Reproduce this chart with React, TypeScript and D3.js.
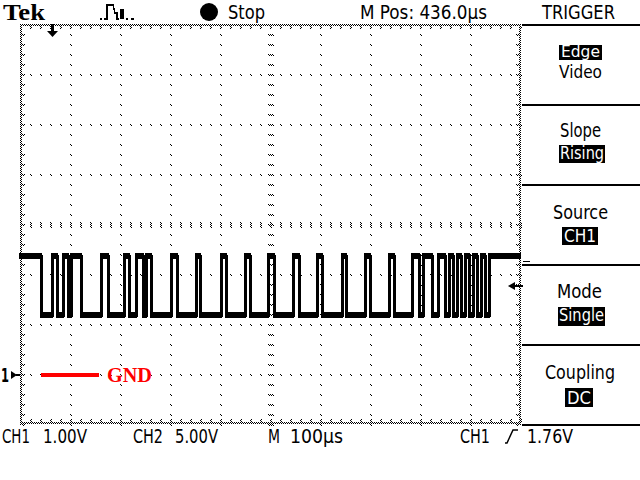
import React from "react";
import * as d3 from "d3";

// ---- data ----
// CH1 transition times in microseconds from the left edge of the screen (trace starts high)
const edgeTimesUs = [
  42, 64, 74, 86, 96, 102, 122, 162, 176, 208, 218, 232, 246, 252, 262, 302,
  314, 352, 360, 402, 412, 450, 460, 496, 508, 546, 558, 594, 604, 644, 652,
  690, 700, 738, 748, 784, 798, 806, 824, 836, 850, 858, 866, 874, 882, 890,
  898, 906, 914, 922, 930, 938,
];
const highLevelV = 2.36;
const lowLevelV = 1.18;
const triggerLevelV = 1.76;
const gndLevelV = 0;
const screenTimeUs = [0, 1000];
const screenVolts = [-1, 7];
const triggerTimeUs = 64;

const topLabels = ["Stop", "M Pos: 436.0µs", "TRIGGER"];
const bottomLabels = ["CH1", "1.00V", "CH2", "5.00V", "M", "100µs", "CH1", "1.76V"];
const menuTitles = ["Edge", "Slope", "Source", "Mode", "Coupling"];
const menuValues = ["Video", "Rising", "CH1", "Single", "DC"];

const UI_FONT = "'Liberation Sans Narrow', 'DejaVu Sans Condensed', 'Liberation Sans', Arial, sans-serif";
const SERIF = "'Liberation Serif', 'Times New Roman', serif";

function T(props: { x: number; y: number; w: number; size: number; fill?: string; children: string; family?: string; weight?: string }) {
  return (
    <text
      x={props.x}
      y={props.y}
      textLength={props.w}
      lengthAdjust="spacingAndGlyphs"
      fontFamily={props.family || UI_FONT}
      fontWeight={props.weight || "normal"}
      fontSize={props.size}
      fill={props.fill || "#000"}
    >
      {props.children}
    </text>
  );
}

export default function App() {
  const x = d3.scaleLinear().domain(screenTimeUs).range([20, 520]);
  const y = d3.scaleLinear().domain(screenVolts).range([424, 24]);

  // waveform points
  const pts: [number, number][] = [];
  const segs: { t0: number; t1: number; v: number }[] = [];
  let hi = true;
  let tPrev = screenTimeUs[0];
  pts.push([screenTimeUs[0], highLevelV]);
  for (const t of edgeTimesUs) {
    const v = hi ? highLevelV : lowLevelV;
    pts.push([t, v]);
    segs.push({ t0: tPrev, t1: t, v });
    hi = !hi;
    pts.push([t, hi ? highLevelV : lowLevelV]);
    tPrev = t;
  }
  const vEnd = hi ? highLevelV : lowLevelV;
  pts.push([screenTimeUs[1], vEnd]);
  segs.push({ t0: tPrev, t1: screenTimeUs[1], v: vEnd });
  const line = d3
    .line<[number, number]>()
    .x((d) => Math.round(x(d[0])))
    .y((d) => Math.round(y(d[1])));

  // grid
  const vGrid = d3.range(100, 1000, 100);
  const hGrid = d3.range(0, 7, 1);
  const dotsT = d3.range(0, 1001, 20); // every 10 px
  const dotsV = d3.range(-1, 7.01, 0.2);

  const dots: JSX.Element[] = [];
  vGrid.forEach((t) => {
    if (t === 500) return;
    dotsV.forEach((v, i) => {
      const px = Math.round(x(t));
      const py = Math.round(y(v));
      dots.push(<rect key={`v${t}-${i}`} x={px} y={py} width={1} height={1} />);
      dots.push(<rect key={`v2${t}-${i}`} x={px + 1} y={py + 1} width={1} height={1} />);
    });
  });
  hGrid.forEach((v) => {
    if (v === 3) return;
    dotsT.forEach((t, i) => {
      const px = Math.round(x(t));
      const py = Math.round(y(v));
      dots.push(<rect key={`h${v}-${i}`} x={px} y={py} width={1} height={1} />);
      dots.push(<rect key={`h2${v}-${i}`} x={px + 1} y={py + 1} width={1} height={1} />);
    });
  });
  // center cross ticks
  const cx = Math.round(x(500));
  const cy = Math.round(y(3));
  dotsV.forEach((v, i) => {
    dots.push(<rect key={`cv${i}`} x={cx - 2} y={Math.round(y(v))} width={6} height={2} fill="url(#chk)" />);
  });
  dotsT.forEach((t, i) => {
    dots.push(<rect key={`ch${i}`} x={Math.round(x(t))} y={cy - 2} width={2} height={6} fill="url(#chk)" />);
  });
  // border ticks
  dotsV.forEach((v, i) => {
    const py = Math.round(y(v));
    dots.push(<rect key={`bl${i}`} x={22} y={py} width={3} height={2} fill="url(#chk)" />);
    dots.push(<rect key={`br${i}`} x={516} y={py} width={3} height={2} fill="url(#chk)" />);
  });
  dotsT.forEach((t, i) => {
    const px = Math.round(x(t));
    dots.push(<rect key={`bt${i}`} x={px} y={26} width={2} height={3} fill="url(#chk)" />);
    dots.push(<rect key={`bb${i}`} x={px} y={419} width={2} height={3} fill="url(#chk)" />);
  });

  const trigY = Math.round(y(triggerLevelV));
  const gndY = Math.round(y(gndLevelV)) + 1;
  const trigX = Math.round(x(triggerTimeUs));

  // right menu
  const menuTop = [24, 104, 184, 264, 344];
  const panelX = 522;

  return (
    <svg
      width={640}
      height={480}
      style={{ position: "fixed", left: 0, top: 0, display: "block", background: "#fff" }}
      shapeRendering="crispEdges"
    >
      <defs>
        <pattern id="chk" width={2} height={2} patternUnits="userSpaceOnUse">
          <rect x={0} y={0} width={1} height={1} fill="#000" />
          <rect x={1} y={1} width={1} height={1} fill="#000" />
        </pattern>
      </defs>
      <rect x={0} y={0} width={640} height={480} fill="#fff" />

      {/* graticule border */}
      <rect x={20} y={24} width={2} height={401} fill="url(#chk)" />
      <rect x={519} y={24} width={2} height={401} fill="url(#chk)" />
      <rect x={20} y={24} width={501} height={2} fill="url(#chk)" />
      <rect x={20} y={422} width={501} height={2} fill="url(#chk)" />
      <g fill="#000">{dots}</g>

      {/* waveform */}
      <path d={line(pts) || ""} fill="none" stroke="#000" strokeWidth={3} strokeLinejoin="miter" />
      <g fill="#000">
        {segs.map((s, i) => (
          <rect
            key={`seg${i}`}
            x={Math.round(x(s.t0)) - 1}
            y={Math.round(y(s.v)) - 3}
            width={Math.max(2, Math.round(x(s.t1)) - Math.round(x(s.t0)) + 2)}
            height={6}
          />
        ))}
      </g>

      {/* trigger position marker */}
      <rect x={trigX - 1} y={24} width={3} height={8} fill="#000" />
      <path d={`M${trigX - 5},31 L${trigX + 6},31 L${trigX + 0.5},37 Z`} fill="#000" shapeRendering="auto" />

      {/* trigger level marker */}
      <path d={`M508,${trigY} L515,${trigY - 4} L515,${trigY + 4} Z`} fill="#000" shapeRendering="auto" />
      <rect x={514} y={trigY - 1} width={9} height={2} fill="#000" />
      <rect x={523} y={trigY - 25} width={7} height={1} fill="#000" />

      {/* ground marker */}
      <T x={1} y={gndY + 7} w={8} size={20} weight="bold">1</T>
      <path d={`M11,${gndY - 4} L17,${gndY} L11,${gndY + 4} Z`} fill="#000" shapeRendering="auto" />
      <rect x={16} y={gndY - 1} width={4} height={2} fill="#000" />
      <rect x={41} y={gndY - 2} width={58} height={4} fill="#ff0000" />
      <T x={107} y={gndY + 7} w={45} size={21} fill="#ff0000" family={SERIF} weight="bold">GND</T>

      {/* top bar */}
      <T x={3} y={20} w={42} size={23} family={SERIF} weight="bold">Tek</T>
      <path
        d="M100,19 L102,19 M104,19 L106,19 L107,19 L107,5 L113,5 L115,13 L117,13 L117,19 L119,19 M121,19 L121,10 L123,10 L123,19 M126,19 L128,19 M131,19 L134,19"
        fill="none"
        stroke="#000"
        strokeWidth={1.5}
      />
      <circle cx={209} cy={12} r={9} fill="#000" shapeRendering="auto" />
      <T x={228} y={19} w={37} size={20}>{topLabels[0]}</T>
      <T x={360} y={19} w={127} size={20}>{topLabels[1]}</T>
      <T x={542} y={19} w={73} size={20}>{topLabels[2]}</T>

      {/* right menu */}
      {menuTop.map((t, i) => (
        <rect key={`sep${i}`} x={panelX} y={t} width={118} height={2} fill="#000" />
      ))}
      <rect x={panelX} y={424} width={118} height={2} fill="#000" />

      {/* Edge / Video */}
      <rect x={559} y={45} width={43} height={15} fill="#000" />
      <T x={561} y={57} w={39} size={15} fill="#fff">{menuTitles[0]}</T>
      <T x={559} y={78} w={43} size={18}>{menuValues[0]}</T>
      {/* Slope / Rising */}
      <T x={560} y={137} w={41} size={19}>{menuTitles[1]}</T>
      <rect x={559} y={145} width={46} height={18} fill="#000" />
      <T x={560} y={159} w={44} size={17} fill="#fff">{menuValues[1]}</T>
      {/* Source / CH1 */}
      <T x={553} y={219} w={55} size={19}>{menuTitles[2]}</T>
      <rect x={562} y={227} width={36} height={18} fill="#000" />
      <T x={564} y={242} w={32} size={18} fill="#fff">{menuValues[2]}</T>
      {/* Mode / Single */}
      <T x={557} y={298} w={45} size={19}>{menuTitles[3]}</T>
      <rect x={558} y={307} width={47} height={19} fill="#000" />
      <T x={559} y={321} w={45} size={17} fill="#fff">{menuValues[3]}</T>
      {/* Coupling / DC */}
      <T x={545} y={379} w={70} size={19}>{menuTitles[4]}</T>
      <rect x={565} y={388} width={28} height={19} fill="#000" />
      <T x={567} y={404} w={24} size={18} fill="#fff">{menuValues[4]}</T>

      {/* bottom bar */}
      <T x={2} y={443} w={28} size={20}>{bottomLabels[0]}</T>
      <T x={43} y={443} w={44} size={20}>{bottomLabels[1]}</T>
      <T x={133} y={443} w={30} size={20}>{bottomLabels[2]}</T>
      <T x={175} y={443} w={43} size={20}>{bottomLabels[3]}</T>
      <T x={268} y={443} w={12} size={20}>{bottomLabels[4]}</T>
      <T x={290} y={443} w={53} size={20}>{bottomLabels[5]}</T>
      <T x={460} y={443} w={30} size={20}>{bottomLabels[6]}</T>
      <path d="M505,443 L507,443 L513,430 L518,430" fill="none" stroke="#000" strokeWidth={1.5} shapeRendering="auto" />
      <T x={527} y={443} w={46} size={20}>{bottomLabels[7]}</T>
    </svg>
  );
}
